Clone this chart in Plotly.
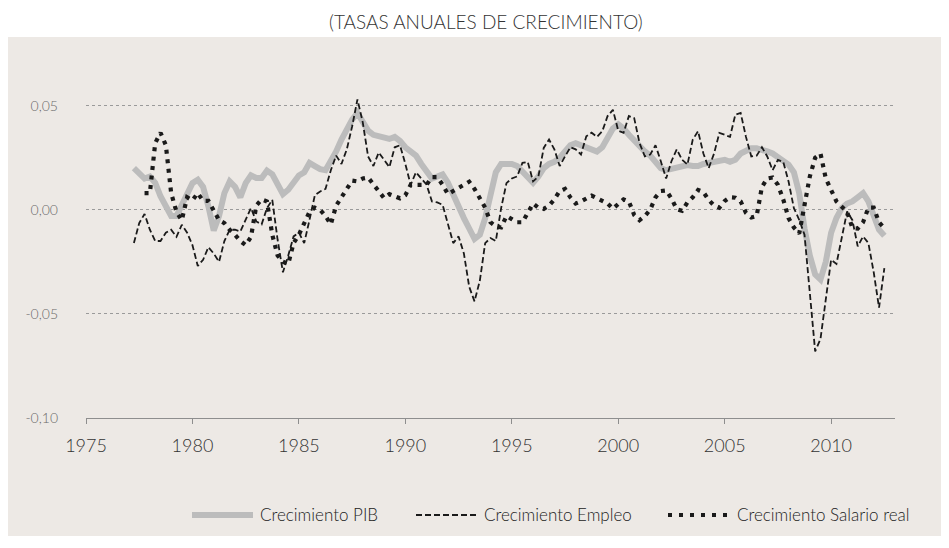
import plotly.graph_objects as go

# ---------------- data (quarterly annual growth rates) ----------------
START_MAIN = 1977.25   # first quarter of GDP / employment series
START_WAGE = 1977.75   # first quarter of real wage series
STEP = 0.25

pib = [
    0.020, 0.017, 0.015,
    0.016, 0.013, 0.0065, 0.001,
    -0.003, -0.003, 0.0025, 0.008,
    0.0128, 0.0144, 0.011, 0.0016,
    -0.010, -0.003, 0.008, 0.0136,
    0.011, 0.006, 0.0128, 0.0165,
    0.0153, 0.0153, 0.0188, 0.017,
    0.012, 0.0075, 0.0096, 0.0136,
    0.0165, 0.018, 0.0225, 0.021,
    0.0195, 0.019, 0.023, 0.028,
    0.0337, 0.0385, 0.0433, 0.0465,
    0.042, 0.038, 0.036, 0.0353,
    0.0345, 0.034, 0.035, 0.033,
    0.030, 0.028, 0.026, 0.022,
    0.018, 0.015, 0.016, 0.017,
    0.013, 0.007, 0.002, -0.004,
    -0.009, -0.014, -0.012, -0.004,
    0.007, 0.018, 0.022, 0.022,
    0.022, 0.021, 0.018, 0.015,
    0.013, 0.016, 0.020, 0.022,
    0.023, 0.025, 0.028, 0.031,
    0.032, 0.031, 0.030, 0.029,
    0.028, 0.030, 0.035, 0.039,
    0.041, 0.039, 0.036, 0.033,
    0.030, 0.028, 0.026, 0.023,
    0.020, 0.019, 0.0195, 0.020,
    0.021, 0.0215, 0.021, 0.021,
    0.022, 0.0225, 0.023, 0.024,
    0.024, 0.023, 0.024, 0.027,
    0.028, 0.0295, 0.0295, 0.029,
    0.028, 0.027, 0.025, 0.023,
    0.0217, 0.018, 0.008, -0.009,
    -0.022, -0.031, -0.0335, -0.025,
    -0.011, -0.004, 0.0008, 0.003,
    0.004, 0.006, 0.008, 0.004,
    -0.003, -0.0096, -0.0125,
]

empleo = [
    -0.016, -0.0064, -0.002,
    -0.0096, -0.015, -0.015, -0.011,
    -0.0096, -0.013, -0.0072, -0.011,
    -0.017, -0.027, -0.024, -0.018,
    -0.021, -0.025, -0.015, -0.0096,
    -0.0096, -0.0104, -0.005, 0.0008,
    -0.0056, -0.007, 0.0008, 0.0048,
    -0.0144, -0.030, -0.022, -0.0128,
    -0.011, -0.016, -0.0048, 0.007,
    0.0088, 0.010, 0.019, 0.026,
    0.022, 0.029, 0.040, 0.053,
    0.042, 0.0256, 0.021, 0.0275,
    0.024, 0.0205, 0.030, 0.031,
    0.022, 0.012, 0.018, 0.015,
    0.012, 0.004, 0.0035, 0.0024,
    -0.007, -0.016, -0.0128, -0.021,
    -0.037, -0.044, -0.034, -0.016,
    -0.0136, -0.015, 0.0008, 0.0128,
    0.015, 0.016, 0.0225, 0.023,
    0.0136, 0.016, 0.0297, 0.0337,
    0.029, 0.021, 0.0256, 0.030,
    0.029, 0.0265, 0.0353, 0.037,
    0.035, 0.0377, 0.045, 0.048,
    0.038, 0.037, 0.045, 0.044,
    0.032, 0.0256, 0.0265, 0.031,
    0.0233, 0.015, 0.0233, 0.029,
    0.024, 0.0217, 0.0337, 0.0377,
    0.027, 0.020, 0.027, 0.0369,
    0.036, 0.035, 0.0457, 0.0465,
    0.035, 0.0256, 0.026, 0.030,
    0.0256, 0.019, 0.024, 0.023,
    0.0136, 0.0008, -0.0048, -0.012,
    -0.040, -0.068, -0.062, -0.042,
    -0.024, -0.026, -0.0128, -0.0008,
    -0.005, -0.0176, -0.0128, -0.016,
    -0.030, -0.047, -0.028,
]

salario = [
    0.008,
    0.008, 0.032, 0.037, 0.031,
    0.008, -0.001, -0.005, 0.006,
    0.0045, 0.008, 0.0043, 0.0043,
    0.000, -0.005, -0.0064, -0.0096,
    -0.012, -0.015, -0.017, -0.013,
    0.002, 0.005, 0.004, -0.012,
    -0.022, -0.025, -0.026, -0.016,
    -0.012, -0.006, -0.001, 0.001,
    0.000, -0.003, -0.007, 0.002,
    0.006, 0.010, 0.014, 0.0136,
    0.015, 0.0155, 0.012, 0.0085,
    0.0056, 0.0075, 0.0065, 0.0055,
    0.007, 0.012, 0.012, 0.012,
    0.012, 0.0157, 0.0157, 0.012,
    0.0075, 0.009, 0.0105, 0.0125,
    0.0135, 0.010, 0.0056, 0.001,
    -0.006, -0.008, -0.0085, -0.003,
    -0.0045, -0.006, -0.006, -0.001,
    0.003, 0.001, 0.0004, 0.002,
    0.005, 0.009, 0.010, 0.006,
    0.003, 0.004, 0.0055, 0.0068,
    0.0055, 0.0045, 0.003, 0.0005,
    0.003, 0.005, 0.004, -0.0025,
    -0.005, -0.003, 0.000, 0.006,
    0.009, 0.0093, 0.0054, 0.0003,
    -0.0005, 0.0035, 0.006, 0.0095,
    0.0085, 0.0047, 0.002, 0.001,
    0.0042, 0.006, 0.0058, 0.004,
    -0.0015, -0.0037, -0.003, 0.011,
    0.015, 0.0155, 0.012, 0.005,
    -0.004, -0.0085, -0.0115, 0.001,
    0.016, 0.025, 0.027, 0.015,
    0.009, 0.004, 0.0015, -0.001,
    -0.0088, -0.009, -0.006, 0.001,
    0.001, -0.006, -0.0088,
]

x_ticks = [1975, 1980, 1985, 1990, 1995, 2000, 2005, 2010]
y_ticks = [-0.10, -0.05, 0.00, 0.05]
y_tick_labels = ["-0,10", "-0,05", "0,00", "0,05"]

series_names = ["Crecimiento PIB", "Crecimiento Empleo", "Crecimiento Salario real"]
title_text = "(TASAS ANUALES DE CRECIMIENTO)"

x_main = [START_MAIN + STEP * i for i in range(len(pib))]
x_wage = [START_WAGE + STEP * i for i in range(len(salario))]

# ---------------- styling ----------------
OFF = 8                      # page body margin offset
W, H = 949 - OFF, 548 - OFF
ML, MR, MT, MB = 86 - OFF, 54, 64 - OFF, 130
PW, PH = W - ML - MR, H - MT - MB
BG = "#ede9e5"
FONT = "Lato"

def px_x(px):   # screen x (reference) -> paper
    return (px - OFF - ML) / PW

def px_y(py):   # screen y (reference) -> paper
    return (H - MB - (py - OFF)) / PH

fig = go.Figure()

fig.add_trace(go.Scatter(x=x_main, y=pib, mode="lines", name=series_names[0],
                         line=dict(color="#bcbcbc", width=6), showlegend=False))
fig.add_trace(go.Scatter(x=x_main, y=empleo, mode="lines", name=series_names[1],
                         line=dict(color="#1a1a1a", width=1.8, dash="6px,3px"),
                         showlegend=False))
fig.add_trace(go.Scatter(x=x_wage, y=salario, mode="lines", name=series_names[2],
                         line=dict(color="#1a1a1a", width=4.2, dash="4px,5.5px"),
                         showlegend=False))

shapes = [
    # beige panel
    dict(type="rect", xref="paper", yref="paper", layer="below",
         x0=px_x(8), x1=px_x(941), y0=px_y(536), y1=px_y(37),
         fillcolor=BG, line=dict(width=0)),
    # legend samples
    dict(type="line", xref="paper", yref="paper",
         x0=px_x(192), x1=px_x(253), y0=px_y(515), y1=px_y(515),
         line=dict(color="#bcbcbc", width=6)),
    dict(type="line", xref="paper", yref="paper",
         x0=px_x(416), x1=px_x(478), y0=px_y(515), y1=px_y(515),
         line=dict(color="#1a1a1a", width=1.8, dash="6px,3px")),
    dict(type="line", xref="paper", yref="paper",
         x0=px_x(668), x1=px_x(727), y0=px_y(515), y1=px_y(515),
         line=dict(color="#1a1a1a", width=4.2, dash="4px,7px")),
]

annotations = [
    dict(text=title_text, xref="paper", yref="paper", x=px_x(485.5), y=px_y(OFF + 1),
         xanchor="center", yanchor="top", showarrow=False, borderpad=0,
         font=dict(family=FONT, size=19, color="#333333", weight=300)),
]
for txt, xpos in zip(series_names, [258, 482, 735]):
    annotations.append(dict(text=txt, xref="paper", yref="paper", x=px_x(xpos), y=px_y(515),
                            xanchor="left", yanchor="middle", showarrow=False,
                            font=dict(family=FONT, size=17, color="#222222", weight=300)))

fig.update_layout(
    width=W, height=H,
    margin=dict(l=ML, r=MR, t=MT, b=MB, pad=0),
    paper_bgcolor="white",
    plot_bgcolor=BG,
    shapes=shapes,
    annotations=annotations,
    font=dict(family=FONT),
    xaxis=dict(
        range=[1975, 2013], tickvals=x_ticks, ticktext=[str(v) for v in x_ticks],
        showgrid=False, zeroline=False, showline=True, linecolor="#8e8e8e", linewidth=1,
        ticks="outside", ticklen=5, tickcolor="#8e8e8e", tickwidth=1,
        ticklabelstandoff=6,
        tickfont=dict(family=FONT, size=18, color="#333333", weight=300),
    ),
    yaxis=dict(
        range=[-0.10, 0.07], tickvals=y_ticks, ticktext=y_tick_labels,
        showgrid=True, gridcolor="#9a9a9a", griddash="dot", gridwidth=1,
        zeroline=False, showline=False, ticks="", ticklabelstandoff=27,
        tickfont=dict(family=FONT, size=14, color="#6a6a6a", weight=300),
    ),
)

fig.write_html("out.html")
